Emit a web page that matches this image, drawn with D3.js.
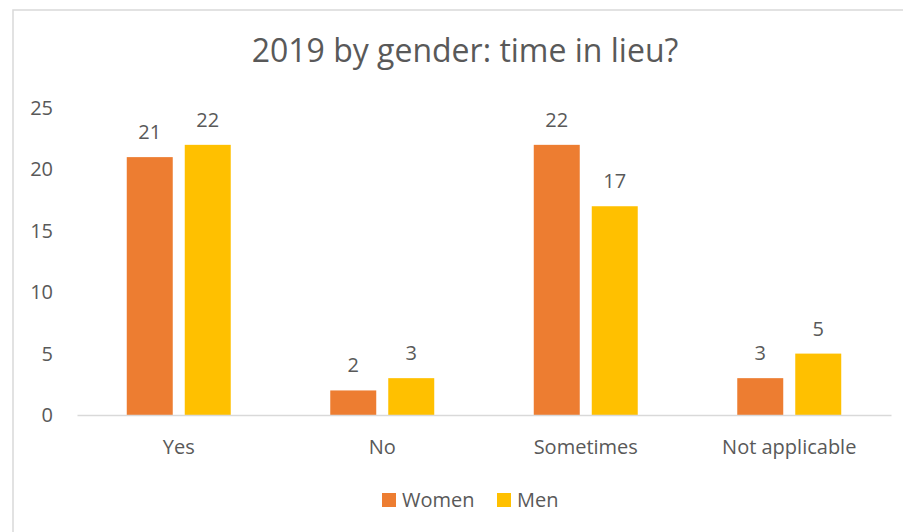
<!DOCTYPE html>
<html>
<head>
<meta charset="utf-8">
<script src="https://cdn.jsdelivr.net/npm/d3@7"></script>
<style>
  html, body { margin: 0; padding: 0; background: #fff; }
  svg { display: block; }
  text { font-family: "Open Sans", "Noto Sans", sans-serif; fill: #595959; }
</style>
</head>
<body>
<svg id="chart" width="903" height="532"></svg>
<script>
// Survey responses: time in lieu, split by gender (2019)
const categories = ["Yes", "No", "Sometimes", "Not applicable"];
const seriesNames = ["Women", "Men"];
const women = [21, 2, 22, 3];
const men = [22, 3, 17, 5];
const yTicks = [0, 5, 10, 15, 20, 25];
const colors = ["#ED7D31", "#FFC000"];
const title = "2019 by gender: time in lieu?";

const values = [women, men];
const rows = categories.map((c, i) => ({
  category: c,
  bars: seriesNames.map((s, j) => ({ series: s, value: values[j][i], color: colors[j] }))
}));

const svg = d3.select("#chart");

// Chart frame
svg.append("rect")
  .attr("x", 13).attr("y", 10)
  .attr("width", 1000).attr("height", 1000)
  .attr("fill", "none")
  .attr("stroke", "#d9d9d9")
  .attr("stroke-width", 1.5);

// Title
svg.append("text")
  .attr("x", 465).attr("y", 62)
  .attr("text-anchor", "middle")
  .style("font-size", "32px")
  .text(title);

const plot = { left: 77, right: 891, top: 108, bottom: 415 };

const x0 = d3.scaleBand()
  .domain(categories)
  .range([plot.left, plot.right])
  .paddingInner(0).paddingOuter(0);

const x1 = d3.scaleBand()
  .domain(seriesNames)
  .range([0, x0.bandwidth()])
  .paddingInner(0.207)
  .paddingOuter(0.858);

const y = d3.scaleLinear()
  .domain([0, 25])
  .range([plot.bottom, plot.top]);

// Y axis labels (no axis line, no gridlines)
const yAxis = d3.axisLeft(y).tickValues(yTicks).tickSize(0).tickPadding(0);
const gy = svg.append("g")
  .attr("transform", `translate(53,0)`)
  .call(yAxis);
gy.select(".domain").remove();
gy.selectAll("text")
  .style("font-size", "20px")
  .style("font-family", null)
  .attr("fill", "#595959");

// Bars
const groups = svg.append("g").selectAll("g")
  .data(rows).join("g")
  .attr("transform", d => `translate(${x0(d.category)},0)`);

groups.selectAll("rect")
  .data(d => d.bars).join("rect")
  .attr("x", d => x1(d.series))
  .attr("y", d => y(d.value))
  .attr("width", x1.bandwidth())
  .attr("height", d => y(0) - y(d.value))
  .attr("fill", d => d.color);

// Value labels
groups.selectAll("text.val")
  .data(d => d.bars).join("text")
  .attr("class", "val")
  .attr("x", d => x1(d.series) + x1.bandwidth() / 2)
  .attr("y", d => y(d.value) - 18)
  .attr("text-anchor", "middle")
  .style("font-size", "20px")
  .text(d => d.value);

// Category axis
const xAxis = d3.axisBottom(x0).tickSize(0).tickPadding(0);
const gx = svg.append("g")
  .attr("transform", `translate(0,${plot.bottom})`)
  .call(xAxis);
gx.select(".domain")
  .attr("stroke", "#d9d9d9")
  .attr("stroke-width", 1.5);
gx.selectAll("text")
  .attr("y", 39)
  .attr("dy", null)
  .style("font-size", "20px")
  .style("font-family", null)
  .attr("fill", "#595959");

// Legend
const legendX = [382, 497];
const legend = svg.append("g").selectAll("g")
  .data(seriesNames).join("g")
  .attr("transform", (d, i) => `translate(${legendX[i]},493)`);
legend.append("rect")
  .attr("width", 14).attr("height", 14)
  .attr("fill", (d, i) => colors[i]);
legend.append("text")
  .attr("x", 20).attr("y", 14)
  .style("font-size", "20px")
  .text(d => d);
</script>
</body>
</html>
